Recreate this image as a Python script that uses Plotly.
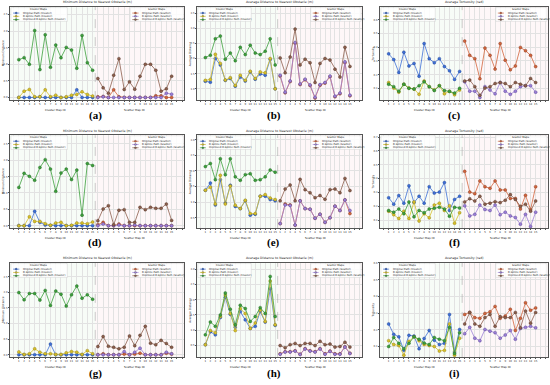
import plotly.graph_objects as go

# ---------------- data (15 cluster maps, 15 scatter maps) ----------------
map_ids = list(range(1, 16))

# (a) Minimum distance, set 1
a_c_orig = [0.0, 0.0, 0.0, 0.0, 0.02, 0.0, 0.0, 0.0, 0.0, 0.0, 0.0, 0.23, 0.0, 0.0, 0.0]
a_c_bspl = [0.0, 0.19, 0.24, 0.02, 0.02, 0.23, 0.02, 0.07, 0.0, 0.02, 0.07, 0.09, 0.17, 0.09, 0.04]
a_c_impr = [1.14, 1.20, 1.00, 2.02, 0.84, 1.89, 0.91, 1.58, 1.20, 1.51, 1.43, 0.88, 1.87, 1.05, 0.82]
a_s_orig = [0.02, 0.03, 0.0, 0.23, 0.02, 0.0, 0.0, 0.0, 0.0, 0.0, 0.0, 0.05, 0.05, 0.0, 0.0]
a_s_bspl = [0.0, 0.02, 0.0, 0.0, 0.0, 0.0, 0.0, 0.0, 0.0, 0.0, 0.0, 0.0, 0.0, 0.13, 0.10]
a_s_impr = [0.57, 0.29, 0.13, 0.67, 1.17, 0.24, 0.47, 0.25, 0.64, 1.00, 1.00, 0.82, 0.19, 0.26, 0.64]

# (b) Average distance, set 1
b_c_orig = [1.25, 1.22, 2.00, 1.79, 1.28, 1.34, 1.09, 1.39, 1.26, 1.56, 1.32, 1.49, 1.45, 1.97, 1.00]
b_c_bspl = [1.28, 1.31, 2.14, 1.84, 1.29, 1.37, 1.11, 1.45, 1.28, 1.58, 1.34, 1.56, 1.53, 2.00, 1.00]
b_c_impr = [2.03, 2.11, 2.65, 2.74, 1.98, 2.18, 1.93, 2.37, 2.13, 2.44, 2.18, 2.13, 2.24, 2.65, 1.79]
b_s_orig = [1.42, 0.87, 1.24, 2.50, 1.14, 1.30, 1.11, 0.70, 1.12, 1.19, 1.40, 0.74, 0.84, 1.86, 0.77]
b_s_bspl = [1.45, 0.89, 1.26, 2.53, 1.16, 1.32, 1.13, 0.72, 1.14, 1.21, 1.42, 0.76, 0.86, 1.89, 0.79]
b_s_impr = [2.02, 1.53, 2.05, 2.97, 1.79, 1.98, 1.86, 1.21, 1.84, 2.00, 1.95, 1.65, 1.39, 2.37, 1.74]

# (c) Tortuosity, set 1
c_c_orig = [0.351, 0.309, 0.216, 0.363, 0.263, 0.281, 0.188, 0.426, 0.316, 0.286, 0.316, 0.258, 0.228, 0.165, 0.223]
c_c_bspl = [0.142, 0.102, 0.072, 0.130, 0.102, 0.095, 0.056, 0.153, 0.112, 0.088, 0.119, 0.060, 0.079, 0.053, 0.088]
c_c_impr = [0.130, 0.112, 0.079, 0.130, 0.100, 0.095, 0.119, 0.147, 0.112, 0.084, 0.119, 0.084, 0.077, 0.065, 0.100]
c_s_orig = [0.444, 0.340, 0.316, 0.170, 0.393, 0.340, 0.240, 0.426, 0.305, 0.235, 0.263, 0.398, 0.374, 0.340, 0.258]
c_s_bspl = [0.147, 0.079, 0.079, 0.033, 0.112, 0.088, 0.060, 0.142, 0.079, 0.056, 0.079, 0.112, 0.119, 0.119, 0.072]
c_s_impr = [0.153, 0.160, 0.112, 0.049, 0.102, 0.112, 0.135, 0.142, 0.135, 0.112, 0.142, 0.130, 0.119, 0.172, 0.142]

# (d) Minimum distance, set 2
d_c_orig = [0.0, 0.0, 0.0, 0.44, 0.10, 0.02, 0.01, 0.0, 0.0, 0.0, 0.0, 0.0, 0.0, 0.0, 0.0]
d_c_bspl = [0.0, 0.0, 0.27, 0.13, 0.13, 0.06, 0.01, 0.08, 0.10, 0.0, 0.01, 0.08, 0.08, 0.06, 0.11]
d_c_impr = [1.17, 1.60, 1.51, 1.39, 1.78, 2.02, 1.73, 1.05, 1.61, 1.73, 1.41, 1.70, 0.32, 1.90, 1.84]
d_s_orig = [0.03, 0.10, 0.0, 0.0, 0.05, 0.0, 0.0, 0.0, 0.0, 0.0, 0.0, 0.0, 0.0, 0.0, 0.0]
d_s_bspl = [0.0, 0.05, 0.0, 0.0, 0.02, 0.0, 0.0, 0.02, 0.0, 0.0, 0.0, 0.0, 0.0, 0.0, 0.0]
d_s_impr = [0.15, 0.51, 0.61, 0.03, 0.47, 0.49, 0.10, 0.10, 0.56, 0.49, 0.56, 0.53, 0.53, 0.66, 0.16]

# (e) Average distance, set 2
e_c_orig = [1.38, 1.61, 0.91, 1.72, 0.97, 1.54, 0.86, 0.79, 1.04, 0.58, 0.61, 1.19, 1.19, 1.08, 1.04]
e_c_bspl = [1.38, 1.48, 0.94, 1.86, 0.94, 1.52, 0.90, 0.79, 1.06, 0.63, 0.63, 1.19, 1.24, 1.13, 1.08]
e_c_impr = [2.14, 2.24, 1.72, 2.39, 1.88, 2.39, 1.81, 1.70, 1.88, 1.91, 1.70, 1.72, 1.81, 2.03, 1.96]
e_s_orig = [0.31, 0.94, 0.91, 0.26, 1.04, 0.79, 0.77, 0.48, 0.61, 0.35, 0.50, 0.87, 0.73, 1.07, 0.63]
e_s_bspl = [0.31, 0.91, 0.89, 0.26, 1.04, 0.79, 0.77, 0.48, 0.61, 0.35, 0.50, 0.87, 0.73, 1.07, 0.73]
e_s_impr = [1.04, 1.42, 1.55, 1.04, 1.73, 1.40, 1.30, 1.14, 1.21, 1.09, 1.40, 1.42, 1.30, 1.76, 1.37]

# (f) Tortuosity, set 2
f_c_orig = [0.261, 0.215, 0.277, 0.222, 0.348, 0.226, 0.272, 0.222, 0.341, 0.295, 0.302, 0.371, 0.169, 0.249, 0.272]
f_c_bspl = [0.164, 0.139, 0.111, 0.164, 0.111, 0.231, 0.093, 0.146, 0.116, 0.208, 0.222, 0.169, 0.203, 0.077, 0.153]
f_c_impr = [0.169, 0.157, 0.180, 0.146, 0.231, 0.123, 0.169, 0.153, 0.180, 0.185, 0.192, 0.180, 0.128, 0.192, 0.187]
f_s_orig = [0.452, 0.302, 0.291, 0.383, 0.341, 0.330, 0.383, 0.318, 0.318, 0.256, 0.256, 0.180, 0.279, 0.176, 0.341]
f_s_bspl = [0.203, 0.130, 0.141, 0.208, 0.176, 0.169, 0.208, 0.139, 0.157, 0.130, 0.118, 0.070, 0.141, 0.054, 0.157]
f_s_impr = [0.231, 0.254, 0.238, 0.272, 0.215, 0.222, 0.233, 0.226, 0.243, 0.284, 0.249, 0.199, 0.215, 0.164, 0.238]

# (g) Minimum distance, set 3
g_c_orig = [0.0, 0.0, 0.0, 0.0, 0.0, 0.0, 0.34, 0.0, 0.0, 0.0, 0.0, 0.0, 0.0, 0.0, 0.0]
g_c_bspl = [0.09, 0.01, 0.03, 0.19, 0.08, 0.03, 0.03, 0.01, 0.01, 0.06, 0.10, 0.08, 0.01, 0.13, 0.03]
g_c_impr = [1.99, 1.76, 1.96, 1.96, 1.75, 2.06, 1.58, 2.04, 1.94, 1.56, 1.92, 2.20, 1.81, 1.92, 1.78]
g_s_orig = [0.0, 0.03, 0.0, 0.0, 0.0, 0.02, 0.0, 0.02, 0.05, 0.0, 0.0, 0.0, 0.0, 0.05, 0.02]
g_s_bspl = [0.0, 0.0, 0.0, 0.0, 0.0, 0.10, 0.0, 0.08, 0.21, 0.0, 0.0, 0.0, 0.0, 0.08, 0.03]
g_s_impr = [0.26, 0.58, 0.27, 0.24, 0.19, 0.24, 0.60, 0.29, 0.62, 0.91, 0.37, 0.32, 0.46, 0.36, 0.24]

# (h) Average distance, set 3
h_c_orig = [0.53, 0.95, 0.85, 1.42, 2.08, 1.52, 1.10, 1.61, 1.34, 1.06, 1.13, 1.61, 1.27, 2.36, 1.16]
h_c_bspl = [0.53, 0.99, 0.92, 1.45, 2.15, 1.55, 0.99, 1.71, 1.55, 1.06, 1.24, 1.66, 1.29, 2.61, 1.18]
h_c_impr = [0.85, 1.27, 1.13, 1.50, 2.22, 1.69, 1.18, 1.82, 1.71, 1.29, 1.45, 1.74, 1.55, 2.76, 1.45]
h_s_orig = [0.23, 0.30, 0.30, 0.33, 0.22, 0.40, 0.33, 0.30, 0.40, 0.23, 0.32, 0.23, 0.23, 0.46, 0.25]
h_s_bspl = [0.22, 0.29, 0.29, 0.32, 0.21, 0.39, 0.32, 0.29, 0.39, 0.22, 0.31, 0.22, 0.22, 0.45, 0.24]
h_s_impr = [0.50, 0.43, 0.53, 0.57, 0.50, 0.57, 0.57, 0.50, 0.64, 0.53, 0.55, 0.45, 0.47, 0.61, 0.45]

# (i) Tortuosity, set 3
i_c_orig = [0.235, 0.173, 0.158, 0.077, 0.167, 0.163, 0.087, 0.148, 0.196, 0.138, 0.112, 0.119, 0.292, 0.067, 0.202]
i_c_bspl = [0.135, 0.112, 0.106, 0.048, 0.131, 0.158, 0.135, 0.112, 0.106, 0.100, 0.073, 0.077, 0.235, 0.048, 0.150]
i_c_impr = [0.100, 0.154, 0.119, 0.087, 0.119, 0.158, 0.144, 0.121, 0.112, 0.154, 0.144, 0.135, 0.215, 0.058, 0.183]
i_s_orig = [0.292, 0.304, 0.273, 0.269, 0.298, 0.308, 0.340, 0.269, 0.283, 0.323, 0.196, 0.269, 0.362, 0.317, 0.331]
i_s_bspl = [0.177, 0.215, 0.150, 0.135, 0.202, 0.192, 0.183, 0.150, 0.169, 0.196, 0.144, 0.208, 0.215, 0.221, 0.212]
i_s_impr = [0.235, 0.304, 0.235, 0.221, 0.273, 0.292, 0.221, 0.279, 0.273, 0.273, 0.304, 0.212, 0.312, 0.240, 0.304]

panel_letters = ["a", "b", "c", "d", "e", "f", "g", "h", "i"]
panel_data = {
    "a": (a_c_orig, a_c_bspl, a_c_impr, a_s_orig, a_s_bspl, a_s_impr),
    "b": (b_c_orig, b_c_bspl, b_c_impr, b_s_orig, b_s_bspl, b_s_impr),
    "c": (c_c_orig, c_c_bspl, c_c_impr, c_s_orig, c_s_bspl, c_s_impr),
    "d": (d_c_orig, d_c_bspl, d_c_impr, d_s_orig, d_s_bspl, d_s_impr),
    "e": (e_c_orig, e_c_bspl, e_c_impr, e_s_orig, e_s_bspl, e_s_impr),
    "f": (f_c_orig, f_c_bspl, f_c_impr, f_s_orig, f_s_bspl, f_s_impr),
    "g": (g_c_orig, g_c_bspl, g_c_impr, g_s_orig, g_s_bspl, g_s_impr),
    "h": (h_c_orig, h_c_bspl, h_c_impr, h_s_orig, h_s_bspl, h_s_impr),
    "i": (i_c_orig, i_c_bspl, i_c_impr, i_s_orig, i_s_bspl, i_s_impr),
}
metric_titles = ["Minimum Distance to Nearest Obstacle (m)",
                 "Average Distance to Nearest Obstacle (m)",
                 "Average Tortuosity (rad)"]
metric_ylabels = ["Minimum Distance", "Average Distance", "Tortuosity"]
y_ranges = {"a": [-0.08, 2.73], "b": [0.63, 3.70], "c": [0.014, 0.693],
            "d": [-0.07, 2.77], "e": [0.17, 3.15], "f": [0.043, 0.714],
            "g": [-0.07, 2.94], "h": [0.13, 3.20], "i": [0.038, 0.60]}
y_dticks = [0.5, 0.5, 0.1]

cluster_names = ["Original Path (Cluster)", "B-Spline Path (Cluster)", "Improved B-Spline Path (Cluster)"]
scatter_names = ["Original Path (Scatter)", "B-Spline Path (Scatter)", "Improved B-Spline Path (Scatter)"]
cluster_colors = ["#3d6fd6", "#d6bf2a", "#3c9e3c"]
scatter_colors = ["#d2643c", "#9b7fd6", "#8b5e4c"]
edge_cluster = ["#1f3f8a", "#8a7a10", "#1f5f1f"]
edge_scatter = ["#7a3218", "#4f3a8a", "#4a2e22"]

# ---------------- layout geometry ----------------
col_dom = [(0.018, 0.335), (0.358, 0.658), (0.691, 0.996)]
row_dom = [(0.740, 0.982), (0.408, 0.649), (0.073, 0.317)]
label_y = [0.701, 0.369, 0.031]
label_x = [0.173, 0.498, 0.827]

n_maps = len(map_ids)
x_cluster = [i for i in range(n_maps)]
x_scatter = [n_maps + i for i in range(n_maps)]
tickvals = list(range(-1, 2 * n_maps + 2))
ticktext = []
for t in tickvals:
    if 0 <= t < n_maps:
        ticktext.append(str(map_ids[t]))
    elif n_maps <= t < 2 * n_maps:
        ticktext.append(str(map_ids[t - n_maps]))
    else:
        ticktext.append("")
x_range = [-1.7, 2 * n_maps + 1.4]
divider = n_maps - 0.5

FONT = "DejaVu Sans"
fig = go.Figure()
shapes = []
annotations = []
layout_axes = {}

for k, letter in enumerate(panel_letters):
    r, c = divmod(k, 3)
    n = k + 1
    xa = "x" if n == 1 else f"x{n}"
    ya = "y" if n == 1 else f"y{n}"
    xkey = "xaxis" if n == 1 else f"xaxis{n}"
    ykey = "yaxis" if n == 1 else f"yaxis{n}"
    xdom = f"{xa} domain"
    ydom = f"{ya} domain"

    layout_axes[xkey] = dict(domain=list(col_dom[c]), anchor=ya, range=x_range,
                             tickvals=tickvals, ticktext=ticktext,
                             tickfont=dict(size=2.6, color="#333", family=FONT),
                             showgrid=True, gridcolor="#e2e2e2", gridwidth=0.4,
                             showline=True, linecolor="#555", linewidth=0.6, mirror=True,
                             ticks="outside", ticklen=1, tickwidth=0.4, tickcolor="#555",
                             zeroline=False, tickangle=0)
    layout_axes[ykey] = dict(domain=list(row_dom[r]), anchor=xa, range=y_ranges[letter],
                             dtick=y_dticks[c], tickformat=".1f",
                             tickfont=dict(size=2.6, color="#333", family=FONT),
                             showgrid=True, gridcolor="#e2e2e2", gridwidth=0.4,
                             showline=True, linecolor="#555", linewidth=0.6, mirror=True,
                             ticks="outside", ticklen=1, tickwidth=0.4, tickcolor="#555",
                             zeroline=False)

    # half backgrounds and divider
    shapes.append(dict(type="rect", xref=xa, yref=ydom, x0=x_range[0], x1=divider, y0=0, y1=1,
                       fillcolor="rgba(150,220,150,0.08)", line=dict(width=0), layer="below"))
    shapes.append(dict(type="rect", xref=xa, yref=ydom, x0=divider, x1=x_range[1], y0=0, y1=1,
                       fillcolor="rgba(240,150,160,0.08)", line=dict(width=0), layer="below"))
    shapes.append(dict(type="line", xref=xa, yref=ydom, x0=divider, x1=divider, y0=0, y1=1,
                       line=dict(color="#999", width=0.5, dash="dash")))

    series = panel_data[letter]
    for j in range(3):
        fig.add_trace(go.Scatter(x=x_cluster, y=series[j], xaxis=xa, yaxis=ya, mode="lines+markers",
                                 name=cluster_names[j], showlegend=False,
                                 line=dict(color=cluster_colors[j], width=0.8),
                                 marker=dict(size=3, color=cluster_colors[j],
                                             line=dict(color=edge_cluster[j], width=0.4))))
    for j in range(3):
        fig.add_trace(go.Scatter(x=x_scatter, y=series[3 + j], xaxis=xa, yaxis=ya, mode="lines+markers",
                                 name=scatter_names[j], showlegend=False,
                                 line=dict(color=scatter_colors[j], width=0.8),
                                 marker=dict(size=3, color=scatter_colors[j],
                                             line=dict(color=edge_scatter[j], width=0.4))))

    # title, axis titles
    annotations.append(dict(text=metric_titles[c], xref=xdom, yref=ydom, x=0.5, y=1.005,
                            xanchor="center", yanchor="bottom", showarrow=False,
                            font=dict(size=3.2, color="#222", family=FONT)))
    annotations.append(dict(text=metric_ylabels[c], xref="paper", yref=ydom,
                            x=col_dom[c][0] - 0.013, y=0.5, textangle=-90,
                            xanchor="center", yanchor="middle", showarrow=False,
                            font=dict(size=2.8, color="#222", family=FONT)))
    annotations.append(dict(text="Cluster Map ID", xref=xa, yref=ydom, x=(n_maps - 1) / 2, y=-0.065,
                            xanchor="center", yanchor="top", showarrow=False,
                            font=dict(size=2.8, color="#222", family=FONT)))
    annotations.append(dict(text="Scatter Map ID", xref=xa, yref=ydom, x=n_maps + (n_maps - 1) / 2, y=-0.065,
                            xanchor="center", yanchor="top", showarrow=False,
                            font=dict(size=2.8, color="#222", family=FONT)))
    annotations.append(dict(text=f"<b>({letter})</b>", xref="paper", yref="paper",
                            x=label_x[c], y=label_y[r], xanchor="center", yanchor="middle",
                            showarrow=False, font=dict(size=11, color="#000", family="Liberation Serif")))

    # legends drawn as boxes with sample glyphs
    for side, (x0, x1, names, cols, title) in enumerate([
            (0.006, 0.33, cluster_names, cluster_colors, "Cluster Maps"),
            (0.69, 0.995, scatter_names, scatter_colors, "Scatter Maps")]):
        shapes.append(dict(type="rect", xref=xdom, yref=ydom, x0=x0, x1=x1, y0=0.845, y1=0.993,
                           fillcolor="rgba(255,255,255,0.85)", line=dict(color="#cccccc", width=0.4)))
        annotations.append(dict(text=title, xref=xdom, yref=ydom, x=(x0 + x1) / 2, y=0.972,
                                xanchor="center", yanchor="middle", showarrow=False,
                                font=dict(size=2.6, color="#222", family=FONT)))
        for j in range(3):
            yy = 0.934 - j * 0.035
            sx0 = x0 + 0.012
            sx1 = x0 + 0.048
            shapes.append(dict(type="line", xref=xdom, yref=ydom, x0=sx0, x1=sx1, y0=yy, y1=yy,
                               line=dict(color=cols[j], width=0.7)))
            mx = (sx0 + sx1) / 2
            shapes.append(dict(type="circle", xref=xdom, yref=ydom, x0=mx - 0.006, x1=mx + 0.006,
                               y0=yy - 0.011, y1=yy + 0.011, fillcolor=cols[j],
                               line=dict(color="#333", width=0.3)))
            annotations.append(dict(text=names[j], xref=xdom, yref=ydom, x=x0 + 0.058, y=yy,
                                    xanchor="left", yanchor="middle", showarrow=False,
                                    font=dict(size=2.6, color="#222", family=FONT)))

fig.update_layout(width=550, height=385, margin=dict(l=0, r=0, t=0, b=0),
                  paper_bgcolor="white", plot_bgcolor="white", showlegend=False,
                  shapes=shapes, annotations=annotations, **layout_axes)
fig.write_html("out.html", config={"displayModeBar": False},
               post_script="document.body.style.margin='0';document.body.style.padding='0';")
